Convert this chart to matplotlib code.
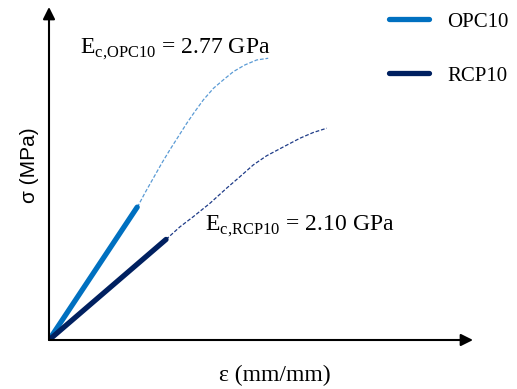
import numpy as np
import matplotlib.pyplot as plt

plt.rcParams['font.family'] = ['Liberation Serif', 'DejaVu Serif']
plt.rcParams['mathtext.fontset'] = 'custom'
plt.rcParams['mathtext.rm'] = 'Liberation Serif'

# normalised strain / stress (schematic, no ticks)
opc_lin_eps = [0.0, 0.208]
opc_lin_sig = [0.0, 0.399]
opc_eps = [0.208, 0.211, 0.226, 0.246, 0.266, 0.285, 0.305, 0.325, 0.344,
           0.364, 0.388, 0.411, 0.435, 0.462, 0.490, 0.517]
opc_sig = [0.399, 0.405, 0.441, 0.486, 0.531, 0.571, 0.611, 0.651, 0.686,
           0.721, 0.756, 0.781, 0.806, 0.826, 0.841, 0.846]

rcp_lin_eps = [0.0, 0.276]
rcp_lin_sig = [0.0, 0.302]
rcp_eps = [0.276, 0.309, 0.340, 0.380, 0.419, 0.450, 0.482, 0.513, 0.553,
           0.592, 0.623, 0.655]
rcp_sig = [0.302, 0.340, 0.370, 0.411, 0.456, 0.490, 0.526, 0.553, 0.580,
           0.606, 0.623, 0.636]

labels = ['OPC10', 'RCP10']
ec_text = [r'E$_{\mathrm{c{,}OPC10}}$ = 2.77 GPa', r'E$_{\mathrm{c{,}RCP10}}$ = 2.10 GPa']

c_opc, c_opc_d = '#0070C0', '#5B9BD5'
c_rcp, c_rcp_d = '#002060', '#1F3C88'

fig = plt.figure(figsize=(5.17, 3.89), dpi=100)
ax = fig.add_axes([49/517, 49/389, 424/517, 333/389])
ax.set_xlim(0, 1)
ax.set_ylim(0, 1)
ax.axis('off')

ax.plot(opc_eps, opc_sig, color=c_opc_d, lw=0.9, ls=(0, (3, 1.5)))
ax.plot(rcp_eps, rcp_sig, color=c_rcp_d, lw=0.9, ls=(0, (3, 1.5)))
l1, = ax.plot(opc_lin_eps, opc_lin_sig, color=c_opc, lw=3.8, solid_capstyle='round')
l2, = ax.plot(rcp_lin_eps, rcp_lin_sig, color=c_rcp, lw=3.8, solid_capstyle='round')

# axes with arrow heads
arrow = dict(arrowstyle='-|>', color='black', lw=1.5, mutation_scale=18,
             shrinkA=0, shrinkB=0)
ax.annotate('', xy=(1.0, 0), xytext=(0, 0), xycoords='axes fraction',
            arrowprops=arrow, annotation_clip=False)
ax.annotate('', xy=(0, 1.0), xytext=(0, 0), xycoords='axes fraction',
            arrowprops=arrow, annotation_clip=False)

ax.text(0.073, 0.862, ec_text[0], fontsize=17, va='baseline', transform=ax.transAxes)
ax.text(0.368, 0.330, ec_text[1], fontsize=17, va='baseline', transform=ax.transAxes)

ax.text(-0.045, 0.526, 'σ (MPa)', fontsize=15, rotation=90, ha='center', va='center',
        transform=ax.transAxes, family=['Liberation Sans'])
ax.text(0.533, -0.105, 'ε (mm/mm)', fontsize=17, ha='center', va='center',
        transform=ax.transAxes)

fig.legend([l1, l2], labels, loc='upper left', bbox_to_anchor=(389/517, 1 - 12/389),
           frameon=False, fontsize=15, handlelength=1.9, handletextpad=0.9,
           labelspacing=1.65, borderpad=0, borderaxespad=0)

fig.savefig('out.png', dpi=100)
